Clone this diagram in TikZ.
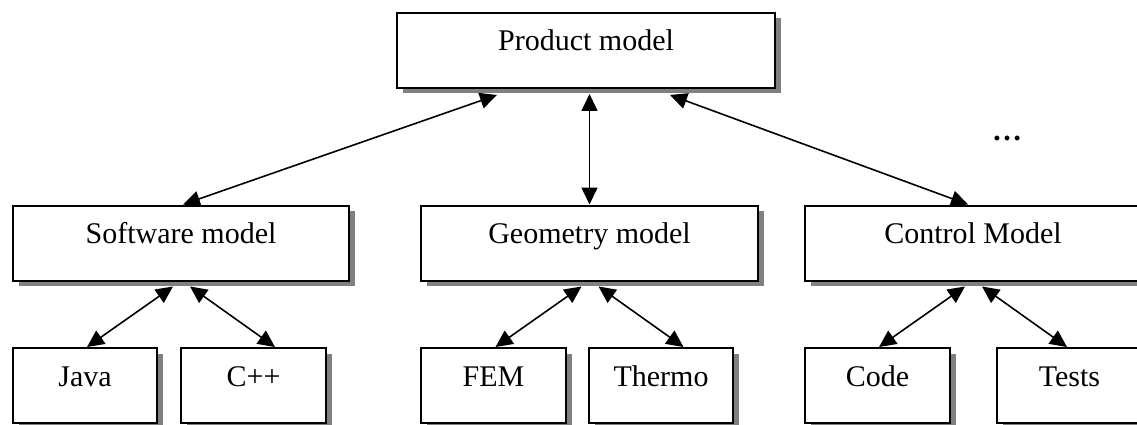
\documentclass[tikz,border=0pt]{standalone}
\usepackage{fontspec}
\setmainfont{Liberation Serif}
\usetikzlibrary{arrows.meta,calc,shadows}

\begin{document}
\begin{tikzpicture}[x=1pt,y=1pt,
  model/.style={draw=black, line width=2pt, fill=white, inner sep=0pt,
    text height=38pt, text depth=37pt,
    font=\fontsize{30}{35}\selectfont,
    drop shadow={shadow xshift=6pt, shadow yshift=-5.5pt, fill=black!50, opacity=1}},
  link/.style={line width=1.6pt,
    {Triangle[length=17pt,width=16pt]}-{Triangle[length=17pt,width=16pt]}}
]
\useasboundingbox (0,0) rectangle (1137,-425);

% top level
\node[model, minimum width=378pt] (prod) at (586,-50.5) {Product model};

% second level
\node[model, minimum width=336pt] (sw)  at (181,-243)   {Software model};
\node[model, minimum width=337pt] (geo) at (589.5,-243) {Geometry model};
\node[model, minimum width=336pt] (ctl) at (973,-243)   {Control Model};

% third level
\node[model, minimum width=144pt] (java)   at (85,-385.5)     {Java};
\node[model, minimum width=145pt] (cpp)    at (253.5,-385.5)  {C++};
\node[model, minimum width=145pt] (fem)    at (493.5,-385.5)  {FEM};
\node[model, minimum width=144pt] (thermo) at (661,-385.5)    {Thermo};
\node[model, minimum width=145pt] (code)   at (877.5,-385.5)  {Code};
\node[model, minimum width=145pt] (tests)  at (1069.5,-385.5) {Tests};

\node[font=\fontsize{30}{35}\selectfont\bfseries, inner sep=0pt] (dots) at (1007,-138) {…};

% product model links
\draw[link] ($(prod.south)+(-89,-6)$) -- ($(sw.north)+(2,0)$);
\draw[link] ($(prod.south -| geo.north)+(0,-5)$) -- (geo.north);
\draw[link] ($(prod.south)+(84,-6)$) -- ($(ctl.north)+(-5,0)$);

% sub-model links
\draw[link] ($(sw.south)+(-8,-5)$)  -- ($(java.north -| sw.south)+(-94,0)$);
\draw[link] ($(sw.south)+(9,-5)$)   -- ($(cpp.north -| sw.south)+(94,0)$);
\draw[link] ($(geo.south)+(-8,-5)$) -- ($(fem.north -| geo.south)+(-94,0)$);
\draw[link] ($(geo.south)+(9,-5)$)  -- ($(thermo.north -| geo.south)+(94,0)$);
\draw[link] ($(ctl.south)+(-8,-5)$) -- ($(code.north -| ctl.south)+(-94,0)$);
\draw[link] ($(ctl.south)+(9,-5)$)  -- ($(tests.north -| ctl.south)+(94,0)$);
\end{tikzpicture}
\end{document}
